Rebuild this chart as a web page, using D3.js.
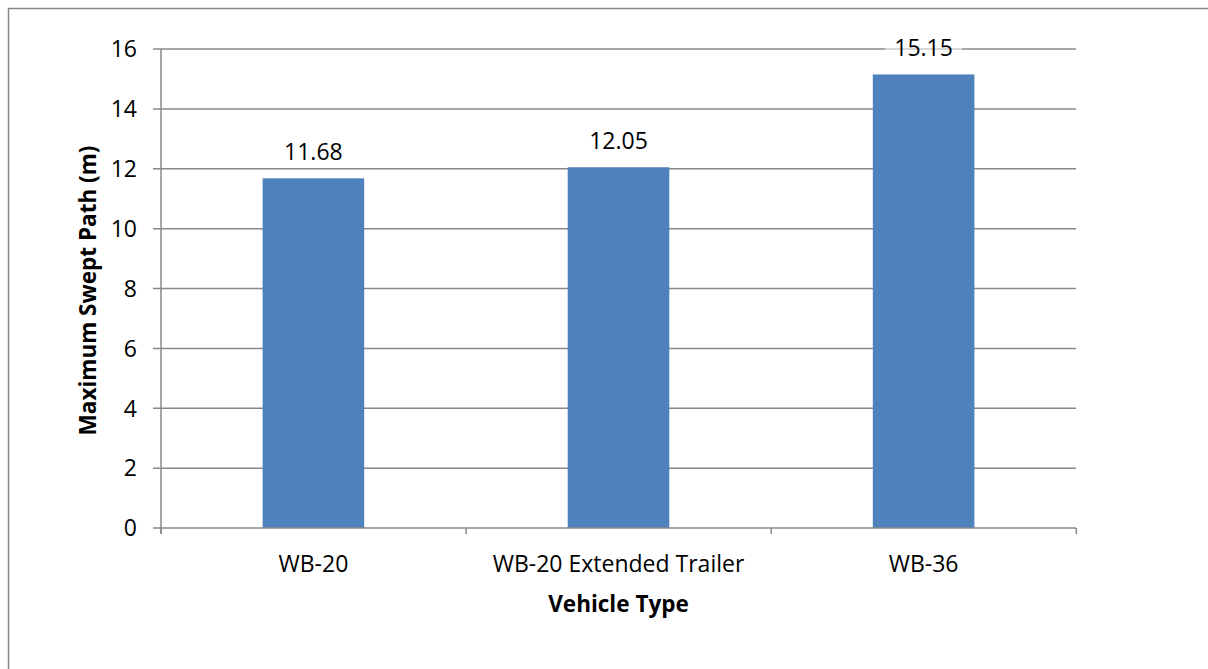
<!DOCTYPE html>
<html>
<head>
<meta charset="utf-8">
<script src="https://cdn.jsdelivr.net/npm/d3@7/dist/d3.min.js"></script>
<style>
  body { margin: 0; background: #fff; }
  svg { display: block; font-family: "Open Sans", "Noto Sans", sans-serif; }
</style>
</head>
<body>
<svg id="chart" width="1208" height="669"></svg>
<script>
const categories = ["WB-20", "WB-20 Extended Trailer", "WB-36"];
const sweptPath = [11.68, 12.05, 15.15];
const yTicks = [0, 2, 4, 6, 8, 10, 12, 14, 16];

const svg = d3.select("#chart");
const margin = { left: 161, right: 132, top: 49, bottom: 141 };
const W = 1208, H = 669;
const fs = 23;

// Outer chart frame
svg.append("rect")
  .attr("x", 8.5).attr("y", 8.5)
  .attr("width", W + 10).attr("height", H + 10)
  .attr("fill", "none").attr("stroke", "#868686").attr("stroke-width", 1.5);

const x = d3.scaleBand().domain(categories)
  .range([margin.left, W - margin.right])
  .paddingInner(0.667).paddingOuter(0.333);
const y = d3.scaleLinear().domain([0, 16]).range([H - margin.bottom, margin.top]);

const grid = "#888888";

// Horizontal gridlines with left tick stubs
svg.append("g").selectAll("line").data(yTicks.filter(d => d > 0)).join("line")
  .attr("x1", margin.left - 8).attr("x2", W - margin.right)
  .attr("y1", d => y(d)).attr("y2", d => y(d))
  .attr("stroke", grid).attr("stroke-width", 1.5);

// Y-axis tick labels
svg.append("g").selectAll("text").data(yTicks).join("text")
  .attr("x", margin.left - 24).attr("y", d => y(d))
  .attr("dy", "0.36em").attr("text-anchor", "end")
  .attr("font-size", fs).attr("fill", "#000")
  .text(d => d);

// Bars
svg.append("g").selectAll("rect").data(categories).join("rect")
  .attr("x", d => x(d)).attr("width", x.bandwidth())
  .attr("y", (d, i) => y(sweptPath[i]))
  .attr("height", (d, i) => y(0) - y(sweptPath[i]))
  .attr("fill", "#4f81bd");

// Value labels with a translucent backing
const lbl = svg.append("g").selectAll("g").data(categories).join("g")
  .attr("transform", (d, i) => `translate(${x(d) + x.bandwidth() / 2},${y(sweptPath[i]) - 27})`);
lbl.append("rect")
  .attr("x", -38.5).attr("y", -15).attr("width", 77).attr("height", 30)
  .attr("fill", "#fff").attr("opacity", 0.55);
lbl.append("text")
  .attr("text-anchor", "middle").attr("dy", "0.36em")
  .attr("font-size", fs).attr("fill", "#000")
  .text((d, i) => sweptPath[i].toFixed(2));

// Axis lines
const x0 = margin.left, x1 = W - margin.right, yb = y(0);
svg.append("line").attr("x1", x0).attr("x2", x0).attr("y1", margin.top).attr("y2", yb + 6)
  .attr("stroke", grid).attr("stroke-width", 1.5);
svg.append("line").attr("x1", x0 - 8).attr("x2", x1).attr("y1", yb).attr("y2", yb)
  .attr("stroke", grid).attr("stroke-width", 1.5);

// Category boundary ticks on the x-axis
const step = x.step();
const bounds = d3.range(categories.length + 1).map(i => x(categories[0]) - x.paddingOuter() * step + i * step);
svg.append("g").selectAll("line").data(bounds).join("line")
  .attr("x1", d => d).attr("x2", d => d).attr("y1", yb).attr("y2", yb + 6)
  .attr("stroke", grid).attr("stroke-width", 1.5);

// Category labels
svg.append("g").selectAll("text").data(categories).join("text")
  .attr("x", d => x(d) + x.bandwidth() / 2).attr("y", yb + 36)
  .attr("dy", "0.36em").attr("text-anchor", "middle")
  .attr("font-size", fs).attr("fill", "#000")
  .text(d => d);

// Axis titles
svg.append("text")
  .attr("x", (x0 + x1) / 2).attr("y", 604).attr("dy", "0.36em")
  .attr("text-anchor", "middle").attr("font-size", 22.5).attr("font-weight", "bold")
  .text("Vehicle Type");
svg.append("text")
  .attr("transform", `translate(88,290.5) rotate(-90)`)
  .attr("dy", "0.36em").attr("text-anchor", "middle")
  .attr("font-size", 22.5).attr("font-weight", "bold")
  .text("Maximum Swept Path (m)");
</script>
</body>
</html>
